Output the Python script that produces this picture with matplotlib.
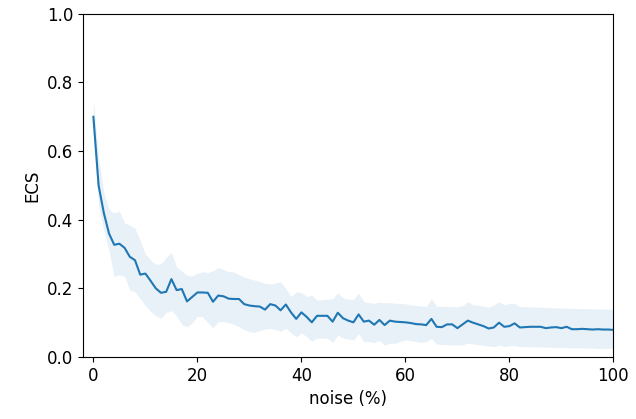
import numpy as np
from matplotlib import pyplot as plt

noise = np.arange(0, 101)

ecs_mean = [
    0.700, 0.500, 0.420, 0.360, 0.327, 0.330, 0.318, 0.292, 0.282, 0.240,
    0.243, 0.222, 0.200, 0.187, 0.190, 0.227, 0.195, 0.198, 0.162, 0.175,
    0.188, 0.188, 0.187, 0.161, 0.179, 0.177, 0.170, 0.169, 0.169, 0.154,
    0.150, 0.148, 0.147, 0.138, 0.154, 0.150, 0.136, 0.153, 0.130, 0.111,
    0.130, 0.117, 0.101, 0.120, 0.120, 0.120, 0.103, 0.129, 0.113, 0.106,
    0.101, 0.124, 0.103, 0.106, 0.094, 0.108, 0.093, 0.106, 0.103, 0.102,
    0.101, 0.099, 0.096, 0.095, 0.093, 0.111, 0.088, 0.087, 0.095, 0.095,
    0.084, 0.095, 0.106, 0.100, 0.095, 0.090, 0.083, 0.086, 0.100, 0.088,
    0.090, 0.098, 0.086, 0.087, 0.088, 0.088, 0.088, 0.084, 0.086, 0.087,
    0.084, 0.088, 0.081, 0.081, 0.082, 0.081, 0.080, 0.081, 0.080, 0.080,
    0.079,
]

ecs_upper = [
    0.750, 0.580, 0.480, 0.430, 0.420, 0.425, 0.390, 0.385, 0.375, 0.340,
    0.300, 0.283, 0.270, 0.272, 0.290, 0.305, 0.262, 0.250, 0.238, 0.236,
    0.244, 0.248, 0.246, 0.252, 0.260, 0.255, 0.249, 0.248, 0.240, 0.233,
    0.228, 0.224, 0.220, 0.214, 0.213, 0.215, 0.219, 0.200, 0.176, 0.190,
    0.188, 0.176, 0.180, 0.166, 0.167, 0.168, 0.170, 0.187, 0.172, 0.168,
    0.168, 0.186, 0.161, 0.158, 0.156, 0.160, 0.158, 0.158, 0.157, 0.156,
    0.155, 0.152, 0.150, 0.149, 0.147, 0.170, 0.148, 0.147, 0.148, 0.147,
    0.146, 0.150, 0.161, 0.152, 0.150, 0.148, 0.145, 0.152, 0.161, 0.152,
    0.156, 0.155, 0.147, 0.146, 0.146, 0.145, 0.145, 0.144, 0.144, 0.143,
    0.143, 0.142, 0.142, 0.141, 0.141, 0.141, 0.140, 0.140, 0.140, 0.139,
    0.139,
]

ecs_lower = [
    0.650, 0.440, 0.370, 0.310, 0.235, 0.240, 0.235, 0.195, 0.190, 0.170,
    0.150, 0.133, 0.120, 0.113, 0.130, 0.135, 0.120, 0.095, 0.088, 0.100,
    0.118, 0.117, 0.100, 0.085, 0.103, 0.103, 0.100, 0.095, 0.088, 0.080,
    0.074, 0.072, 0.077, 0.082, 0.083, 0.080, 0.075, 0.084, 0.070, 0.059,
    0.070, 0.060, 0.046, 0.055, 0.055, 0.054, 0.042, 0.064, 0.055, 0.052,
    0.050, 0.068, 0.045, 0.045, 0.042, 0.048, 0.035, 0.040, 0.040, 0.045,
    0.050, 0.048, 0.045, 0.042, 0.045, 0.054, 0.038, 0.036, 0.036, 0.035,
    0.035, 0.036, 0.040, 0.038, 0.036, 0.034, 0.032, 0.030, 0.035, 0.030,
    0.032, 0.034, 0.030, 0.030, 0.030, 0.029, 0.029, 0.029, 0.028, 0.028,
    0.028, 0.027, 0.027, 0.027, 0.026, 0.026, 0.026, 0.025, 0.025, 0.025,
    0.025,
]

fig = plt.figure(figsize=(6.36, 4.19), dpi=100)
ax = fig.add_axes([0.1305, 0.148, 0.834, 0.819])

ax.fill_between(noise, ecs_lower, ecs_upper, color="#1f77b4", alpha=0.1, linewidth=0)
ax.plot(noise, ecs_mean, color="#1f77b4", linewidth=1.5)

ax.set_xlim(-2, 100)
ax.set_ylim(0, 1)
ax.set_xticks([0, 20, 40, 60, 80, 100])
ax.set_yticks([0.0, 0.2, 0.4, 0.6, 0.8, 1.0])
ax.tick_params(labelsize=12)
ax.set_xlabel("noise (%)", fontsize=12)
ax.set_ylabel("ECS", fontsize=12)

fig.savefig("out.png", dpi=100)
